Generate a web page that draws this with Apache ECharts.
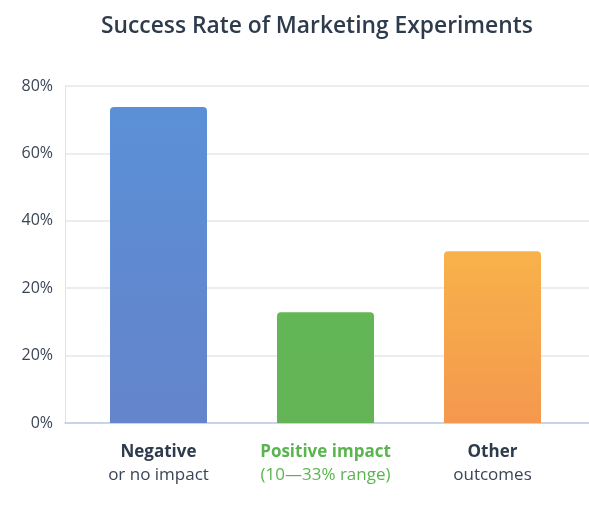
<!DOCTYPE html>
<html><head><meta charset="utf-8">
<script src="https://cdn.jsdelivr.net/npm/echarts@6/dist/echarts.min.js"></script>
<style>html,body{margin:0;padding:0;background:#fff}#c{width:589px;height:514px}</style>
</head><body><div id="c"></div>
<script>
const categories = ['Negative\nor no impact', 'Positive impact\n(10—33% range)', 'Other\noutcomes'];
const values = [75, 26.3, 40.8];
const tickLabels = ['0%', '20%', '20%', '40%', '60%', '80%'];
const yMax = 80;
const yInterval = 16;

const chart = echarts.init(document.getElementById('c'), null, {renderer: 'canvas'});
const font = '"Open Sans", sans-serif';
const colors = [
  new echarts.graphic.LinearGradient(0, 0, 0, 1, [{offset: 0, color: '#5b90d7'}, {offset: 1, color: '#6484cb'}]),
  new echarts.graphic.LinearGradient(0, 0, 0, 1, [{offset: 0, color: '#63b755'}, {offset: 1, color: '#63b455'}]),
  new echarts.graphic.LinearGradient(0, 0, 0, 1, [{offset: 0, color: '#f8b24a'}, {offset: 1, color: '#f4984e'}])
];
chart.setOption({
  animation: false,
  title: {
    text: 'Success Rate of Marketing Experiments', left: 96, top: 10,
    textStyle: {fontFamily: font, fontSize: 22.8, fontWeight: 600, color: '#2e3b4c'}
  },
  grid: [
    {left: 65, right: 0, top: 86, bottom: 91},
    {left: 75, right: 13, top: 86, bottom: 91}
  ],
  xAxis: [
    {type: 'category', gridIndex: 0, data: ['a'], axisLine: {show: true, lineStyle: {color: '#bccde9', width: 1.5}},
     axisTick: {show: false}, axisLabel: {show: false}},
    {type: 'category', gridIndex: 1, data: categories, axisLine: {show: false}, axisTick: {show: false},
     axisLabel: {
       margin: 18, lineHeight: 23, fontFamily: font,
       formatter: function (v, i) {
         const p = v.split('\n');
         const k = i === 1 ? 'g' : 'd';
         return '{' + k + 'b|' + p[0] + '}\n{' + k + '|' + p[1] + '}';
       },
       rich: {
         db: {fontFamily: font, fontSize: 17, fontWeight: 'bold', color: '#2e3b4c', lineHeight: 23},
         d: {fontFamily: font, fontSize: 17, color: '#3a4656', lineHeight: 23},
         gb: {fontFamily: font, fontSize: 17, fontWeight: 'bold', color: '#5bb450', lineHeight: 23},
         g: {fontFamily: font, fontSize: 17, color: '#5bb450', lineHeight: 23}
       }
     }}
  ],
  yAxis: [
    {type: 'value', gridIndex: 0, min: 0, max: yMax, interval: yInterval,
     axisLine: {show: true, lineStyle: {color: '#dde3ee'}}, axisTick: {show: false},
     splitLine: {lineStyle: {color: '#e4e7ed', width: 1.5}},
     axisLabel: {margin: 12, fontFamily: font, fontSize: 16, color: '#3a4656',
       formatter: function (v) { return tickLabels[Math.round(v / yInterval)]; }}},
    {type: 'value', gridIndex: 1, min: 0, max: yMax, interval: yInterval, show: false}
  ],
  series: [{
    type: 'bar', xAxisIndex: 1, yAxisIndex: 1, barWidth: 97,
    data: values.map(function (v, i) {
      return {value: v, itemStyle: {color: colors[i], borderRadius: [4, 4, 0, 0]}};
    })
  }]
});
</script></body></html>
